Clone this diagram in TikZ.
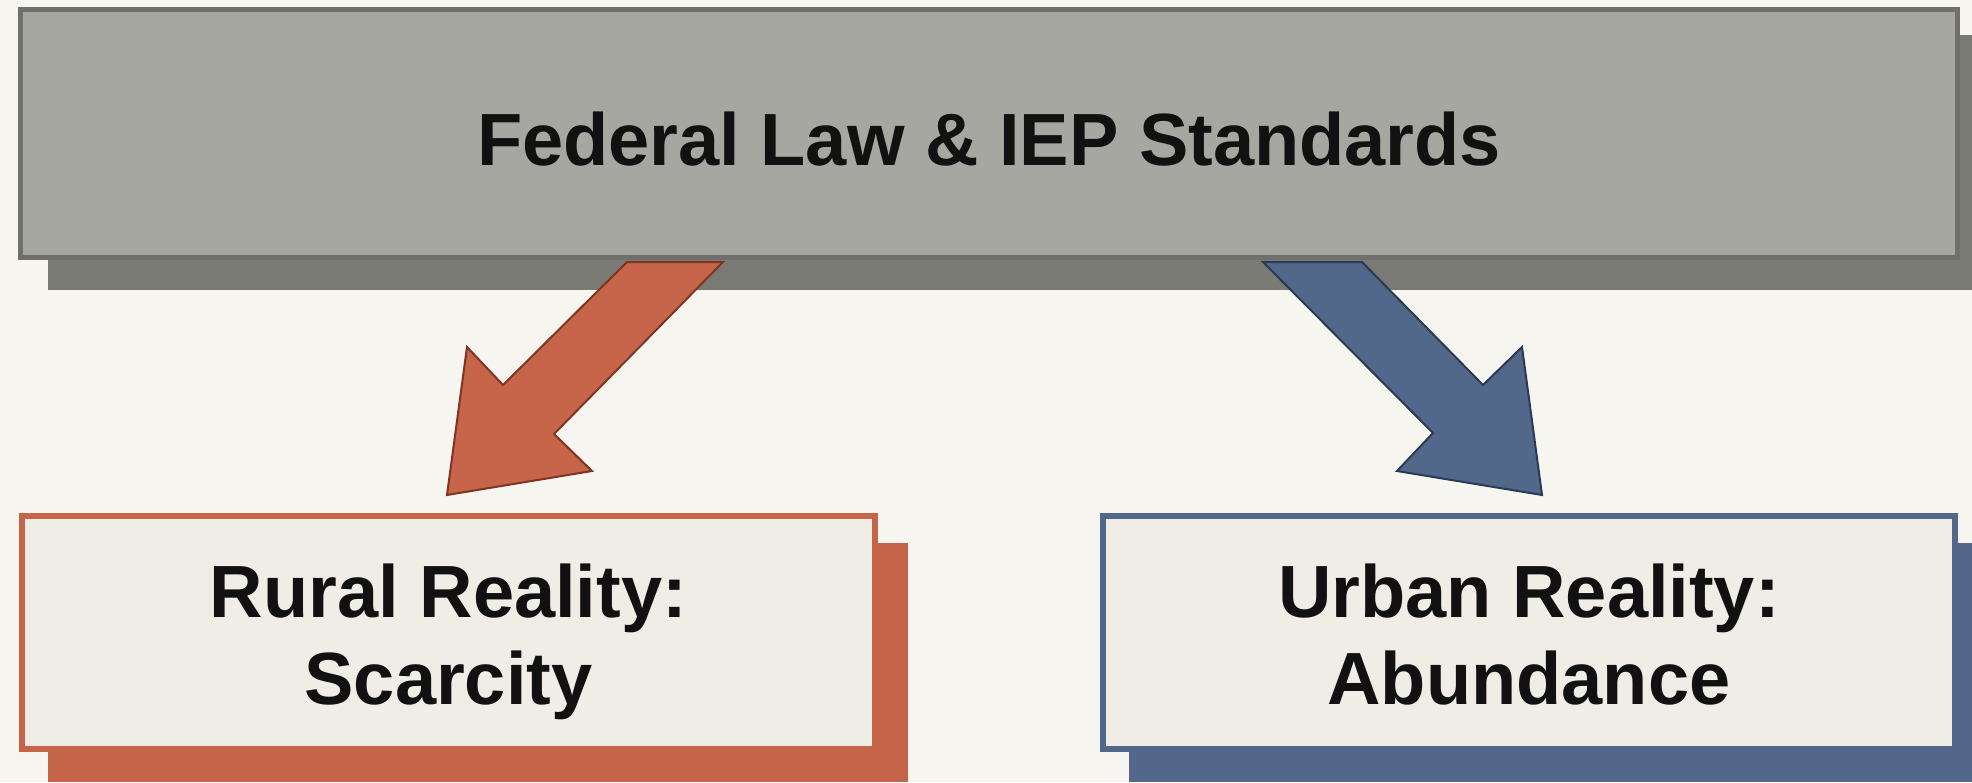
\documentclass[tikz,border=0pt]{standalone}
\usepackage{fontspec}
\setmainfont{Liberation Sans}
\definecolor{bgc}{HTML}{F6F5F0}
\definecolor{topfill}{HTML}{A7A7A1}
\definecolor{topdraw}{HTML}{6F6F6B}
\definecolor{topshadow}{HTML}{7A7A75}
\definecolor{lowfill}{HTML}{EFEDE6}
\definecolor{orangec}{HTML}{C4654A}
\definecolor{orangefill}{HTML}{C6654A}
\definecolor{orangedark}{HTML}{7E3522}
\definecolor{bluec}{HTML}{53678A}
\definecolor{bluefill}{HTML}{51688A}
\definecolor{bluedark}{HTML}{2B3A52}
\definecolor{textc}{HTML}{111111}
\begin{document}
\begin{tikzpicture}[x=1pt,y=-1pt,
  boxbase/.style={rectangle, inner sep=0pt, outer sep=0pt, line width=5pt, align=center,
    text=textc, font=\fontsize{74}{87}\selectfont\bfseries},
  topbox/.style={boxbase, fill=topfill, draw=topdraw, text height=63pt, text depth=0pt},
  lowbox/.style={boxbase, fill=lowfill, line width=6pt, text height=160pt, text depth=16pt},
  rurbox/.style={lowbox, draw=orangec},
  urbbox/.style={lowbox, draw=bluec},
  blockarrow/.style={line width=2pt, line join=miter}
]
\useasboundingbox (0,0) rectangle (1972,782);
\fill[bgc] (0,0) rectangle (1972,782);

% shadows
\fill[topshadow] (48,35) rectangle (1972,290);
\fill[orangec] (48,543) rectangle (908,782);
\fill[bluec] (1129,543) rectangle (1972,782);

% block arrows
\draw[blockarrow, fill=orangefill, draw=orangedark]
  (723,262) -- (627,262) -- (503,385) -- (467,347) -- (447,495)
  -- (592,471) -- (554,434) -- cycle;
\draw[blockarrow, fill=bluefill, draw=bluedark]
  (1263,262) -- (1362,262) -- (1483,385) -- (1522,347) -- (1542,495)
  -- (1397,471) -- (1433,433) -- cycle;

% boxes
\node[topbox, minimum width=1937pt, minimum height=248pt] (law) at (989,133.5)
  {Federal Law \& IEP Standards};
\node[rurbox, minimum width=853pt, minimum height=233pt] (rural) at (448.5,632.5)
  {Rural Reality:\\Scarcity};
\node[urbbox, minimum width=852pt, minimum height=233pt] (urban) at (1529,632.5)
  {Urban Reality:\\Abundance};
\end{tikzpicture}
\end{document}
